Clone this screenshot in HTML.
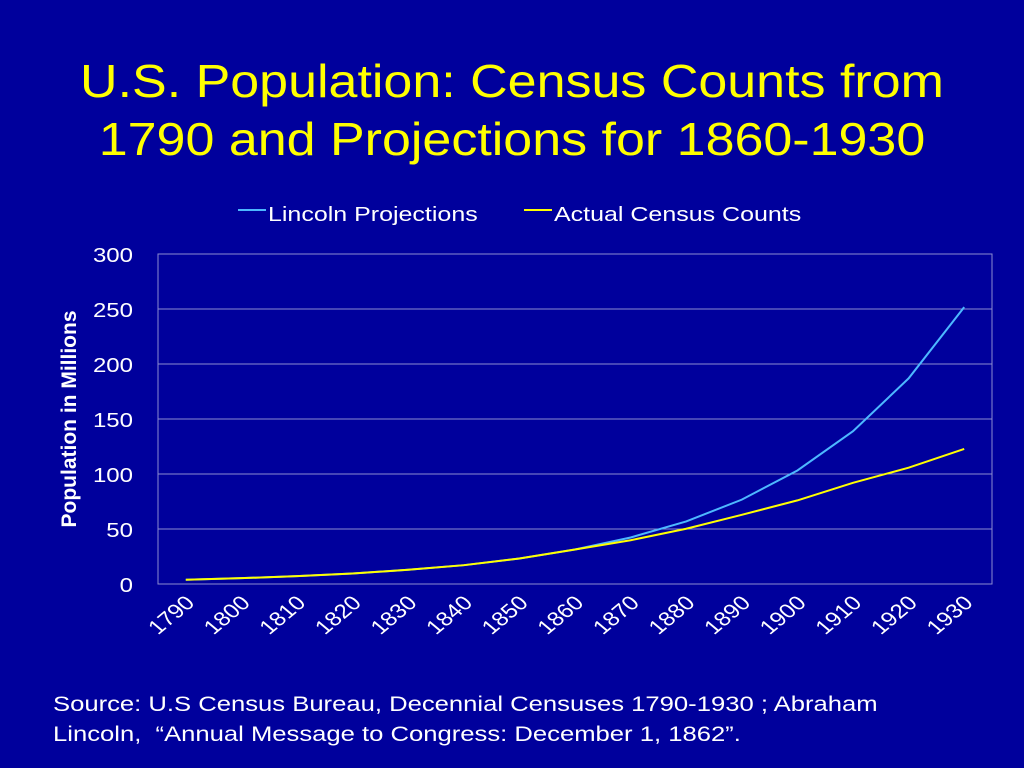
<!DOCTYPE html>
<html><head><meta charset="utf-8"><style>
body{margin:0;width:1024px;height:768px;background:#00009c;overflow:hidden;font-family:"Liberation Sans",Arial,sans-serif}
#title{position:absolute;left:0;top:52px;width:1024px;text-align:center;color:#ffff00;font-size:46px;line-height:58px;transform:scaleX(1.13);transform-origin:512px 0}
#src{position:absolute;left:53px;top:690px;color:#fff;font-size:21px;line-height:30px;transform:scaleX(1.22);transform-origin:0 0;white-space:nowrap}
svg{position:absolute;left:0;top:0}
</style></head><body>
<div id="title">U.S. Population: Census Counts from<br>1790 and Projections for 1860-1930</div>
<svg id="chart" width="1024" height="768"></svg>
<div id="src">Source: U.S Census Bureau, Decennial Censuses 1790-1930 ; Abraham<br>Lincoln,&nbsp; “Annual Message to Congress: December 1, 1862”.</div>
<script>
const categories=["1790","1800","1810","1820","1830","1840","1850","1860","1870","1880","1890","1900","1910","1920","1930"];
const lincolnValues=[3.9,5.3,7.2,9.6,12.9,17.1,23.2,31.4,42.3,56.9,76.7,103.2,138.9,186.9,251.7];
const actualValues=[3.9,5.3,7.2,9.6,12.9,17.1,23.2,31.4,39.8,50.2,62.9,76.0,92.0,105.7,122.8];
const yTicks=[0,50,100,150,200,250,300];
const NS="http://www.w3.org/2000/svg",svg=document.getElementById('chart');
const L=158,R=992,T=254,B=584,yMax=300;
const bw=(R-L)/categories.length;
const x=i=>L+bw*(i+0.5), y=v=>B-(v/yMax)*(B-T);
function mk(t,a,p){const e=document.createElementNS(NS,t);for(const k in a)e.setAttribute(k,a[k]);(p||svg).appendChild(e);return e;}
const st=(ax,ay,s)=>`translate(${ax} ${ay}) scale(${s} 1) translate(${-ax} ${-ay})`;
yTicks.forEach(v=>{
  const g=mk('line',{x1:L,x2:R,y1:y(v),y2:y(v),stroke:'#8c8cd0','stroke-width':1});
  
  
  const t=mk('text',{x:133,y:y(v)+8,'text-anchor':'end',fill:'#fff','font-size':20,transform:st(133,y(v),1.2)});
  t.textContent=v;
  
  
});
const bx=mk('rect',{x:L,y:T,width:R-L,height:B-T,fill:'none',stroke:'#8c8cd0','stroke-width':1});


categories.forEach((c,i)=>{
  const ax=x(i)+10,ay=604;
  const t=mk('text',{x:ax,y:ay,'text-anchor':'end',fill:'#fff','font-size':20,transform:st(ax,ay,1.2)+` rotate(-45 ${ax} ${ay})`});
  t.textContent=c;
  
  
});
const yt=mk('text',{x:76,y:419,'text-anchor':'middle',fill:'#fff','font-size':21,'font-weight':'bold',transform:'rotate(-90 76 419)'});
yt.textContent='Population in  Millions';


function line(vals,col,name){
  const p=mk('polyline',{points:vals.map((v,i)=>x(i)+','+y(v)).join(' '),fill:'none',stroke:col,'stroke-width':2});
  
  
}
line(lincolnValues,'#4db8ff','lincoln-projections-line');
line(actualValues,'#ffff00','actual-census-line');
function leg(x0,col,label,name){
  const g=mk('g',{});
  
  
  mk('line',{x1:x0,x2:x0+28,y1:210,y2:210,stroke:col,'stroke-width':2},g);
  const t=mk('text',{x:x0+30,y:221,fill:'#fff','font-size':20,transform:st(x0+30,221,1.25)},g);t.textContent=label;
}
leg(238,'#4db8ff','Lincoln Projections','legend-lincoln');
leg(524,'#ffff00','Actual Census Counts','legend-actual');
</script>
</body></html>
